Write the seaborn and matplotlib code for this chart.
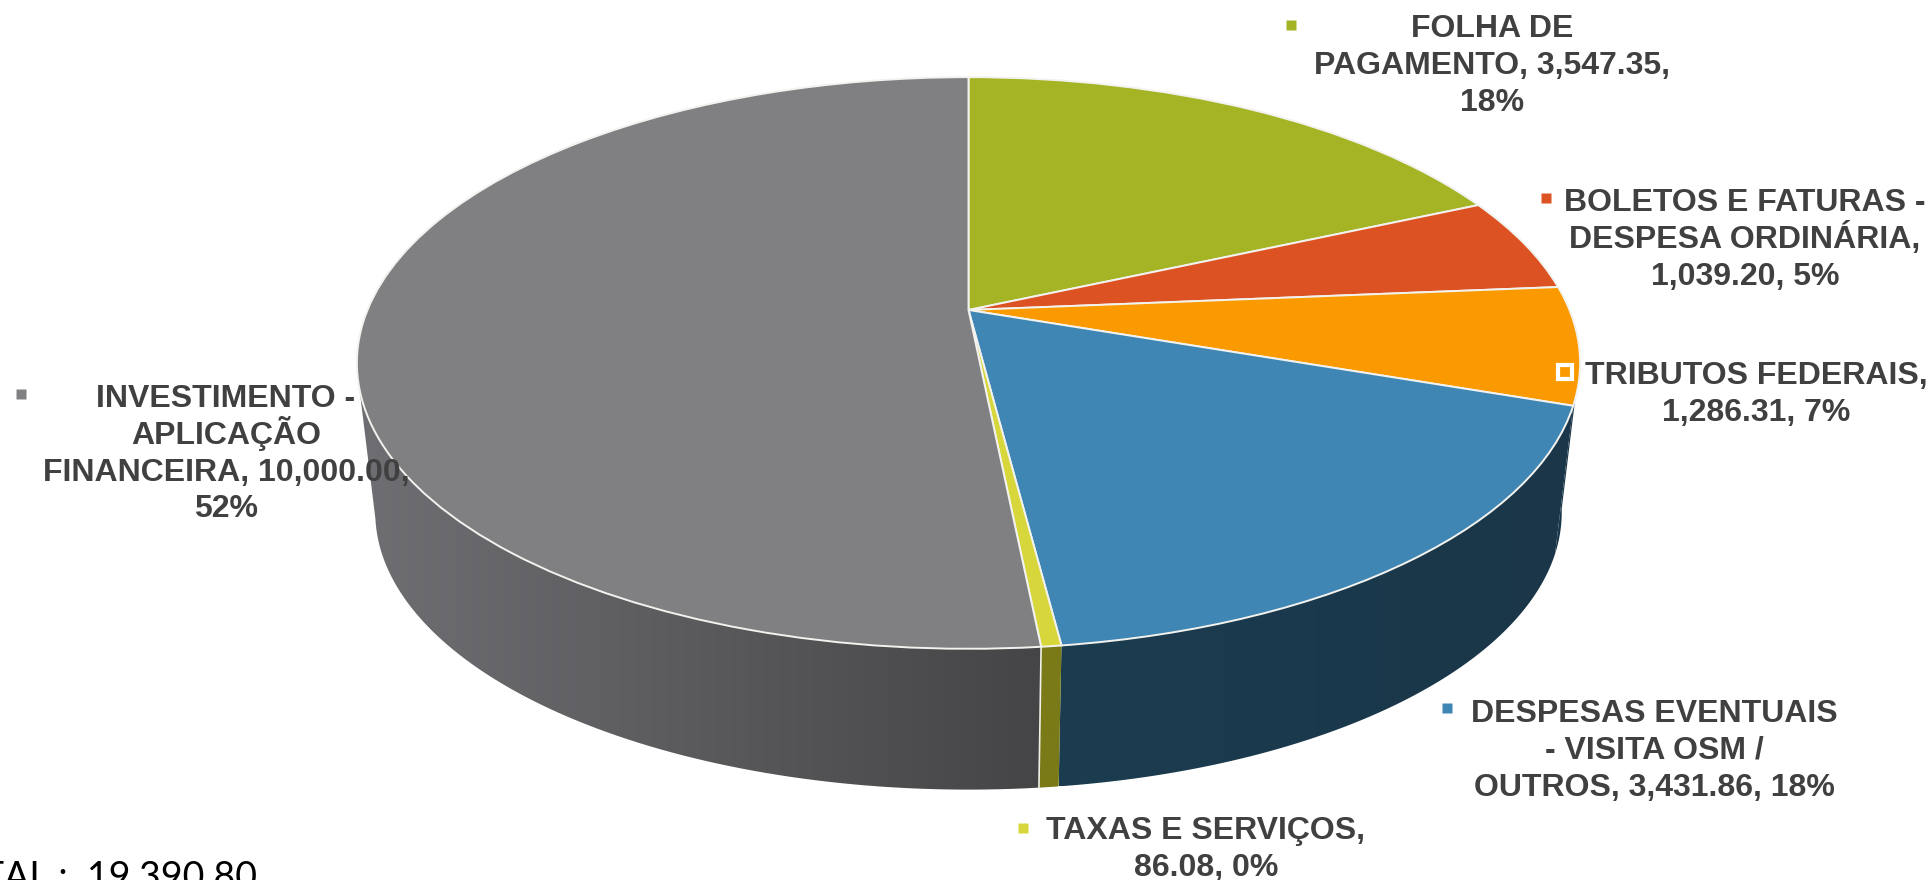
import matplotlib
matplotlib.use('Agg')
import matplotlib.pyplot as plt
from matplotlib.patches import Polygon
from matplotlib.transforms import Transform
import seaborn as sns
import numpy as np

categories = [['FOLHA DE', 'PAGAMENTO, 3,547.35,', '18%'],
              ['BOLETOS E FATURAS -', 'DESPESA ORDINÁRIA,', '1,039.20, 5%'],
              ['TRIBUTOS FEDERAIS,', '1,286.31, 7%'],
              ['DESPESAS EVENTUAIS', '- VISITA OSM /', 'OUTROS, 3,431.86, 18%'],
              ['TAXAS E SERVIÇOS,', '86.08, 0%'],
              ['INVESTIMENTO -', 'APLICAÇÃO', 'FINANCEIRA, 10,000.00,', '52%']]
values = [3547.35, 1039.20, 1286.31, 3431.86, 86.08, 10000.00]
total_text = 'TOTAL :  19,390.80'

top_colors = ['#a5b425', '#dc5222', '#fb9900', '#4086b4', '#d7d63a', '#807f82']
side_left = ['#5f6a10', '#7d2e12', '#1a3648', '#1c3c50', '#7a7a18', '#6f6f73']
side_right = ['#5f6a10', '#7d2e12', '#1a3648', '#1a3648', '#7a7a18', '#454547']

# label centre x, first baseline y, marker x, marker y
label_x = [1492, 1745, 1756, 1654, 1206, 226]
label_y = [37, 211, 384, 722, 839, 407]
marker_x = [1291, 1546, 1565, 1447, 1023, 21]
marker_y = [25, 198, 372, 708, 828, 394]


class PieProjection(Transform):
    # unit pie -> pixels, with perspective so the pie centre sits above the ellipse centre
    input_dims = 2
    output_dims = 2
    is_affine = False
    has_inverse = False

    def __init__(self, cx, cy, scale=1.0):
        super().__init__()
        self.cx, self.cy, self.scale = cx, cy, scale

    def transform_non_affine(self, xy):
        xy = np.asarray(xy, dtype=float)
        w = 1 + 0.1853 * xy[:, 1]
        x = self.cx + self.scale * 601 * xy[:, 0] / w
        y = self.cy - self.scale * 276 * xy[:, 1] / w
        return np.column_stack([x, y])


sns.set_theme(style='white')
plt.rcParams['font.family'] = ['Liberation Sans', 'DejaVu Sans']

fig = plt.figure(figsize=(19.31, 8.8), dpi=100)
ax = fig.add_axes([0, 0, 1, 1])

top = PieProjection(968.5, 310)
bottom = PieProjection(968.5, 461, 0.97)

# side walls, only the front part of the circle shows
fractions = np.cumsum([0] + values) / np.sum(values)
angles = fractions * 2 * np.pi
for i in range(len(values)):
    a = max(angles[i], np.radians(100))
    b = min(angles[i + 1], np.radians(258))
    if b <= a:
        continue
    t = np.linspace(a, b, 80)
    unit = np.column_stack([np.sin(t), np.cos(t)])
    pts = np.vstack([top.transform(unit), bottom.transform(unit)[::-1]])
    poly = Polygon(pts, closed=True, facecolor='none', edgecolor='none')
    ax.add_patch(poly)
    cmap = sns.blend_palette([side_left[i], side_right[i]], 64, as_cmap=True)
    x0, x1 = pts[:, 0].min(), pts[:, 0].max()
    y0, y1 = pts[:, 1].min(), pts[:, 1].max()
    im = ax.imshow(np.linspace(0, 1, 256).reshape(1, -1), cmap=cmap, aspect='auto',
                   extent=[x0, x1, y1, y0], zorder=1)
    im.set_clip_path(poly)

# white seam between investimento and taxas walls
seam = np.array([[np.sin(angles[5]), np.cos(angles[5])]])
ax.plot([top.transform(seam)[0, 0], bottom.transform(seam)[0, 0]],
        [top.transform(seam)[0, 1], bottom.transform(seam)[0, 1]],
        color='#f0f0e8', lw=1.2, zorder=2)

wedges, _ = ax.pie(values, colors=top_colors, startangle=90, counterclock=False,
                   wedgeprops=dict(edgecolor='#f2f2ee', linewidth=1.4))
for w in wedges:
    w.set_transform(top + ax.transData)
    w.set_zorder(3)

ax.set_aspect('auto')
ax.set_xlim(0, 1931)
ax.set_ylim(880, 0)
ax.axis('off')

for i, lines in enumerate(categories):
    for k, line in enumerate(lines):
        ax.text(label_x[i], label_y[i] + k * 36.8, line, ha='center', va='baseline', fontsize=23,
                fontweight='bold', color='#404040', zorder=5)
    if i == 2:
        ax.plot(marker_x[i], marker_y[i], 's', ms=10, color=top_colors[i], mec='white', mew=3, zorder=5)
    else:
        ax.plot(marker_x[i], marker_y[i], 's', ms=7, color=top_colors[i], mec='none', zorder=5)

ax.text(257, 889, total_text, ha='right', va='baseline', fontsize=27, color='black',
        family=['Lato', 'DejaVu Sans'], clip_on=False, zorder=5)

fig.savefig('out.png', dpi=100)
